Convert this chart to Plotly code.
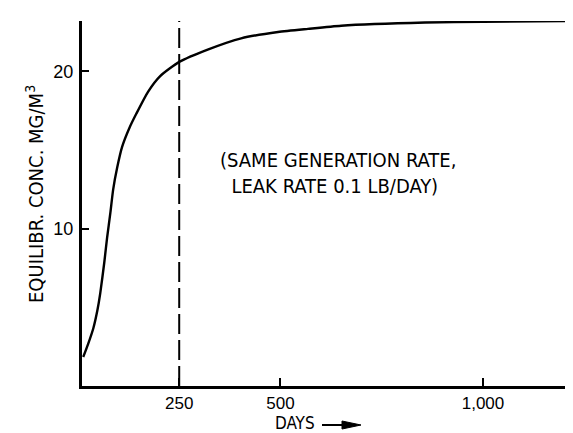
import plotly.graph_objects as go

# Data
days = [13, 25, 38, 48, 55, 65, 72, 80, 87, 97, 109, 127, 144, 173, 203, 250, 322, 403, 494, 568, 650, 857, 1000, 1227]
conc = [1.84, 2.66, 3.67, 4.81, 5.89, 7.85, 9.43, 11.0, 12.5, 13.9, 15.2, 16.4, 17.3, 18.7, 19.7, 20.6, 21.4, 22.1, 22.5, 22.7, 22.9, 23.1, 23.15, 23.2]

marker_day = 250
x_tickvals = [250, 500, 1000]
x_ticktext = ["250", "500", "1,000"]
y_tickvals = [10, 20]
y_ticktext = ["10", "20"]

NARROW = "Liberation Sans Narrow, Arial Narrow, DejaVu Sans Condensed, sans-serif"
SANS = "Liberation Sans, Arial, sans-serif"

B = 378  # pixel row of the x axis

fig = go.Figure()
fig.add_trace(go.Scatter(x=days, y=conc, mode="lines",
                         line=dict(color="black", width=2.4, shape="spline", smoothing=0.6),
                         hoverinfo="skip", showlegend=False))
fig.add_trace(go.Scatter(x=[marker_day, marker_day], y=[0, 23.2], mode="lines",
                         line=dict(color="black", width=2, dash="20px,6px"),
                         hoverinfo="skip", showlegend=False))

fig.update_layout(
    width=573, height=433,
    margin=dict(l=74, r=0, t=13, b=433 - B),
    paper_bgcolor="white", plot_bgcolor="white",
    font=dict(family=SANS, size=18, color="black"),
    xaxis=dict(range=[10, 1242], showgrid=False, zeroline=False, showline=True, linecolor="black", linewidth=3,
               ticks="inside", ticklen=8, tickwidth=1.5, tickcolor="black",
               tickvals=x_tickvals, ticktext=x_ticktext, ticklabelstandoff=0,
               tickfont=dict(family=SANS, size=17)),
    yaxis=dict(range=[0, 23.2], showgrid=False, zeroline=False, showline=True, linecolor="black", linewidth=3,
               ticks="inside", ticklen=7, tickwidth=1.5, tickcolor="black",
               tickvals=y_tickvals, ticktext=y_ticktext, ticklabelstandoff=2,
               tickfont=dict(family=SANS, size=18)),
)

H = B - 13
# x-axis title with arrow
fig.add_annotation(text="DAYS", xref="paper", yref="paper", x=(265 - 74) / 499, y=(B - 427) / H,
                   xanchor="left", yanchor="bottom", showarrow=False, font=dict(family=NARROW, size=17))
fig.add_shape(type="line", xref="paper", yref="paper",
              x0=(314 - 74) / 499, x1=(341 - 74) / 499, y0=(B - 417) / H, y1=(B - 417) / H,
              line=dict(color="black", width=2))
fig.add_shape(type="path", xref="paper", yref="paper",
              path="M {a},{b} L {c},{d} L {a},{e} Z".format(
                  a=(334 - 74) / 499, b=(B - 413) / H, c=(353 - 74) / 499, d=(B - 417) / H,
                  e=(B - 421) / H),
              fillcolor="black", line=dict(color="black", width=1))

# y-axis title
fig.add_annotation(text="EQUILIBR. CONC. MG/M<sup>3</sup>", xref="paper", yref="paper",
                   x=(27 - 74) / 499, y=(B - 186) / H, textangle=-90,
                   xanchor="center", yanchor="middle", showarrow=False, font=dict(family=NARROW, size=20))

# Note
fig.add_annotation(text="(SAME GENERATION RATE,<br>&nbsp;&nbsp;LEAK RATE 0.1 LB/DAY)", xref="paper", yref="paper",
                   x=(210 - 74) / 499, y=(B - 165) / H, xanchor="left", yanchor="middle", align="left",
                   showarrow=False, font=dict(family=NARROW, size=20))

fig.write_html("out.html")
